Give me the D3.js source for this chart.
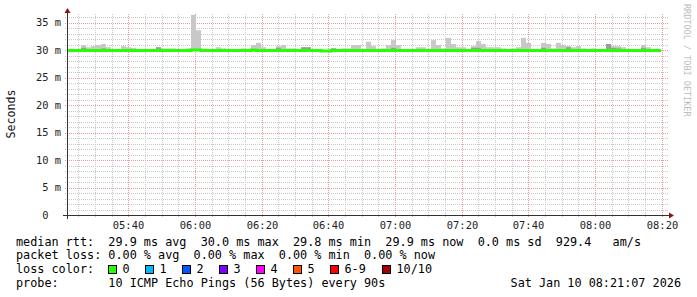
<!DOCTYPE html>
<html>
<head>
<meta charset="utf-8">
<script src="https://cdn.jsdelivr.net/npm/d3@7/dist/d3.min.js"></script>
<style>
  html, body { margin: 0; padding: 0; background: #fff; }
  svg { display: block; }
  text { font-family: "DejaVu Sans Mono", monospace; }
</style>
</head>
<body>
<svg id="chart" width="697" height="297"></svg>
<script>
// ---------- data ----------
const startTime = "2026-01-10T05:21:18";
const stepSeconds = 90;
const rangeStart = "2026-01-10T05:21:36";
const rangeEnd = "2026-01-10T08:21:36";

// median RTT per 90 s step (ms)
const medianRtt = [
  29.9,29.9,29.9,29.9,29.9,29.9,29.9,29.9,29.9,29.9,
  29.9,29.9,29.9,29.9,29.9,29.9,29.9,29.9,29.9,29.9,
  29.9,29.9,29.9,29.9,29.9,30.0,30.0,29.9,29.9,29.9,
  29.9,29.9,29.9,29.9,29.9,29.9,29.9,30.0,29.9,29.9,
  29.9,29.9,29.9,29.9,29.9,29.9,29.9,29.9,29.9,29.9,
  29.9,29.8,29.8,29.9,29.9,29.9,29.9,29.9,29.9,29.9,
  29.9,29.9,29.9,29.9,29.9,29.9,29.9,29.9,29.9,29.9,
  29.9,29.9,29.9,29.9,29.9,29.9,29.9,29.9,29.9,29.9,
  29.9,29.9,29.9,29.9,29.9,29.9,29.9,29.9,29.9,29.9,
  29.9,29.9,29.9,29.9,29.9,29.9,29.9,29.9,29.9,29.9,
  29.9,29.9,29.9,29.9,29.9,29.9,29.9,29.9,29.9,29.9,
  29.9,29.9,29.9,29.9,29.9,29.9,29.9,29.9,29.9
];
// highest ping of each step (outer, light smoke)
const smokeMax = [
  30.0,30.0,30.0,30.9,30.5,30.7,30.9,31.1,30.5,30.0,
  30.0,30.7,30.5,30.4,30.0,30.0,30.0,30.0,30.5,30.3,
  30.3,30.3,30.0,30.0,30.3,36.4,33.6,30.0,30.0,30.0,
  30.5,30.3,30.0,30.0,30.0,30.3,30.0,30.9,31.3,30.5,
  30.0,30.0,30.7,30.9,30.3,30.3,30.0,30.5,30.5,30.0,
  30.0,30.0,30.0,30.3,30.0,30.3,30.3,30.9,30.9,30.0,
  31.5,30.7,30.0,30.3,30.9,31.8,30.9,30.0,30.0,30.0,
  30.5,30.5,30.0,31.8,30.9,30.3,32.2,31.1,30.5,30.5,
  30.0,30.7,31.6,31.1,30.5,30.5,30.5,30.3,30.0,30.3,
  30.5,32.2,31.3,30.0,30.0,31.3,31.1,30.3,31.3,30.9,
  30.7,30.5,30.7,30.3,30.0,30.3,30.0,30.0,31.1,30.7,
  30.7,30.5,30.1,30.0,30.0,30.9,30.5,30.0,30.0
];
// inner (darker) smoke band top per step
const smokeInner = [
  29.9,29.9,29.9,30.4,29.9,29.9,29.9,30.3,29.9,29.9,
  29.9,29.9,29.9,29.9,29.9,29.9,29.9,29.9,30.5,29.9,
  29.9,29.9,29.9,29.9,29.9,30.0,30.0,29.9,29.9,29.9,
  29.9,29.9,29.9,29.9,29.9,29.9,29.9,30.0,29.9,29.9,
  29.9,29.9,30.4,29.9,29.9,29.9,29.9,30.5,30.5,29.9,
  29.9,29.8,29.8,30.3,29.9,29.9,29.9,29.9,29.9,29.9,
  29.9,29.9,29.9,29.9,29.9,30.4,29.9,29.9,29.9,29.9,
  29.9,29.9,29.9,29.9,29.9,29.9,29.9,29.9,29.9,29.9,
  29.9,30.4,30.4,29.9,29.9,29.9,29.9,29.9,29.9,29.9,
  29.9,29.9,29.9,29.9,29.9,30.4,29.9,29.9,29.9,29.9,
  30.5,29.9,29.9,29.9,29.9,29.9,29.9,29.9,31.1,30.4,
  30.3,29.9,29.9,29.9,29.9,30.4,29.9,29.9,29.9
];

const yTickValues = [0,5,10,15,20,25,30,35];
const yTickLabels = ["0  ","5 m","10 m","15 m","20 m","25 m","30 m","35 m"];
const xTickLabels = ["05:40","06:00","06:20","06:40","07:00","07:20","07:40","08:00","08:20"];

const lossLabels = ["0","1","2","3","4","5","6-9","10/10"];
const lossColors = ["#26ff00","#00b8ff","#0059ff","#7e00ff","#ff00ff","#ff5500","#ff0000","#a10000"];

const statLines = [
  "median rtt:  29.9 ms avg  30.0 ms max  29.8 ms min  29.9 ms now  0.0 ms sd  929.4   am/s",
  "packet loss: 0.00 % avg  0.00 % max  0.00 % min  0.00 % now",
  "loss color:",
  "probe:       10 ICMP Echo Pings (56 Bytes) every 90s"
];
const stampText = "Sat Jan 10 08:21:07 2026";
const yAxisTitle = "Seconds";
const watermark = "RRDTOOL / TOBI OETIKER";

// ---------- layout ----------
const X0 = 67, X1 = 667, Y0 = 215, YT = 14.25;
const svg = d3.select("#chart");
const parse = d3.timeParse("%Y-%m-%dT%H:%M:%S");
const t0 = parse(startTime);
const times = medianRtt.map((_, i) => new Date(t0.getTime() + i * stepSeconds * 1000));
const tEnd = new Date(t0.getTime() + medianRtt.length * stepSeconds * 1000);

const x = d3.scaleTime().domain([parse(rangeStart), parse(rangeEnd)]).range([X0, X1]);
const y = d3.scaleLinear().domain([0, 36.5]).range([Y0, YT]);

svg.append("rect").attr("width", 697).attr("height", 297).attr("fill", "#fff");
svg.append("defs").append("clipPath").attr("id", "plotclip")
  .append("rect").attr("x", X0 + 1).attr("y", 0).attr("width", X1 - X0).attr("height", Y0);

// ---------- grid ----------
const allMinutes = d3.timeMinute.range(parse(rangeStart), parse(rangeEnd));
const fiveMin = allMinutes.filter(d => d.getMinutes() % 5 === 0);
const minorX = fiveMin.filter(d => d.getMinutes() % 20 !== 0);
const majorX = fiveMin.filter(d => d.getMinutes() % 20 === 0);
const minorY = d3.range(0, 37, 1).filter(v => v % 5 !== 0);
const px = v => Math.round(v) + 0.5;

const grid = svg.append("g").attr("shape-rendering", "crispEdges");
grid.selectAll("line.hmin").data(minorY).join("line").attr("class", "hmin")
  .attr("x1", X0 - 2).attr("x2", X1 + 2)
  .attr("y1", d => px(y(d))).attr("y2", d => px(y(d)))
  .attr("stroke", "#c8c8c8").attr("stroke-dasharray", "1,1");
grid.selectAll("line.vmin").data(minorX).join("line").attr("class", "vmin")
  .attr("x1", d => px(x(d))).attr("x2", d => px(x(d)))
  .attr("y1", Y0 + 2).attr("y2", 13)
  .attr("stroke", "#c8c8c8").attr("stroke-dasharray", "1,1");
grid.selectAll("line.hmaj").data(yTickValues.slice(1)).join("line").attr("class", "hmaj")
  .attr("x1", X0 - 2).attr("x2", X1 + 2)
  .attr("y1", d => px(y(d))).attr("y2", d => px(y(d)))
  .attr("stroke", "#e89a9a").attr("stroke-dasharray", "1,1");
grid.selectAll("line.vmaj").data(majorX).join("line").attr("class", "vmaj")
  .attr("x1", d => px(x(d))).attr("x2", d => px(x(d)))
  .attr("y1", Y0 + 2).attr("y2", 13)
  .attr("stroke", "#e89a9a").attr("stroke-dasharray", "1,1");

// ---------- smoke ----------
const stepW = d => x(new Date(d.getTime() + stepSeconds * 1000)) - x(d);
const data = times.map((t, i) => ({ t, med: medianRtt[i], max: smokeMax[i], inner: smokeInner[i] }));
const plot = svg.append("g").attr("clip-path", "url(#plotclip)");
plot.selectAll("rect.smoke").data(data.filter(d => d.max > d.med)).join("rect").attr("class", "smoke")
  .attr("x", d => x(d.t)).attr("width", d => stepW(d.t))
  .attr("y", d => y(d.max)).attr("height", d => y(d.med) - y(d.max))
  .attr("fill", "#c8c8c8");
plot.selectAll("rect.inner").data(data.filter(d => d.inner > d.med)).join("rect").attr("class", "inner")
  .attr("x", d => x(d.t)).attr("width", d => stepW(d.t))
  .attr("y", d => y(d.inner)).attr("height", d => y(d.med) - y(d.inner))
  .attr("fill", "#9c9c9c");

// ---------- median line ----------
const lineData = data.concat([{ t: tEnd, med: medianRtt[medianRtt.length - 1] }]);
plot.append("path").datum(lineData)
  .attr("d", d3.line().x(d => x(d.t)).y(d => y(d.med)).curve(d3.curveStepAfter))
  .attr("fill", "none").attr("stroke", lossColors[0]).attr("stroke-width", 3);

// ---------- axes ----------
const axisColor = "#333";
const axes = svg.append("g").attr("shape-rendering", "crispEdges");
axes.append("line").attr("x1", X0 - 4).attr("x2", X1 + 3).attr("y1", Y0 + 0.5).attr("y2", Y0 + 0.5)
  .attr("stroke", axisColor);
axes.append("line").attr("x1", X0 + 0.5).attr("x2", X0 + 0.5).attr("y1", Y0 + 4).attr("y2", 12)
  .attr("stroke", axisColor);
svg.append("path").attr("d", `M${X0 - 2.5},13 L${X0 + 3.5},13 L${X0 + 0.5},8 Z`).attr("fill", "#8b1515");
svg.append("path").attr("d", `M${X1 + 2},${Y0 - 2.5} L${X1 + 2},${Y0 + 3.5} L${X1 + 7},${Y0 + 0.5} Z`).attr("fill", "#8b1515");

svg.selectAll("text.ylab").data(yTickValues).join("text").attr("class", "ylab")
  .attr("x", 61).attr("y", d => y(d) + 3.8)
  .attr("text-anchor", "end").attr("font-size", "10.4px").attr("fill", "#222")
  .attr("xml:space", "preserve").style("white-space", "pre")
  .text((d, i) => yTickLabels[i]);

svg.selectAll("text.xlab").data(majorX.slice(0, xTickLabels.length)).join("text").attr("class", "xlab")
  .attr("x", d => px(x(d))).attr("y", 228.5)
  .attr("text-anchor", "middle").attr("font-size", "10.4px").attr("fill", "#222")
  .text((d, i) => xTickLabels[i]);

svg.append("text").attr("transform", "translate(14.5,114) rotate(-90)")
  .attr("text-anchor", "middle").attr("font-size", "11.6px").attr("fill", "#111")
  .text(yAxisTitle);

svg.append("text").attr("transform", "translate(684,4) rotate(90)")
  .attr("text-anchor", "start").attr("font-size", "8.5px").attr("fill", "#bdbdbd")
  .text(watermark);

// ---------- legend / stats ----------
const lineY = k => 245.5 + 13.7 * k;
svg.selectAll("text.stat").data(statLines).join("text").attr("class", "stat")
  .attr("x", 16).attr("y", (d, i) => lineY(i))
  .attr("font-size", "11.8px").attr("fill", "#000")
  .attr("xml:space", "preserve").style("white-space", "pre")
  .text(d => d);

const boxX = [108, 145, 182, 219, 256, 293, 330, 382];
const lg = svg.append("g");
lg.selectAll("rect").data(lossColors).join("rect")
  .attr("x", (d, i) => boxX[i] + 0.5).attr("y", 265.5)
  .attr("width", 8).attr("height", 8)
  .attr("fill", d => d).attr("stroke", "#000").attr("stroke-width", 1);
lg.selectAll("text").data(lossLabels).join("text")
  .attr("x", (d, i) => boxX[i] + 14.5).attr("y", lineY(2))
  .attr("font-size", "11.8px").attr("fill", "#000")
  .text(d => d);

svg.append("text").attr("x", 681).attr("y", lineY(3))
  .attr("text-anchor", "end").attr("font-size", "11.8px").attr("fill", "#000")
  .text(stampText);
</script>
</body>
</html>
